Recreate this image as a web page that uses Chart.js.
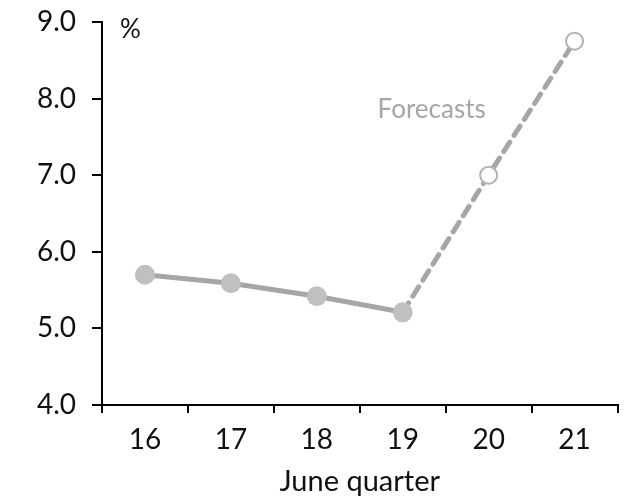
<!DOCTYPE html>
<html>
<head>
<meta charset="utf-8">
<script src="https://cdn.jsdelivr.net/npm/chart.js@4"></script>
<style>
  html, body { margin: 0; padding: 0; background: #fff; }
  #wrap { width: 628px; height: 499px; }
</style>
</head>
<body>
<div id="wrap"><canvas id="chart" width="628" height="499"></canvas></div>
<script>
const labels = ['16', '17', '18', '19', '20', '21'];
const actual = [5.70, 5.59, 5.42, 5.21, null, null];
const forecast = [null, null, null, 5.21, 7.0, 8.75];
const yTicks = [4, 5, 6, 7, 8, 9];

const FONT = 'Lato, "DejaVu Sans", sans-serif';

const notes = {
  id: 'notes',
  afterDraw(chart) {
    const c = chart.ctx;
    const x = chart.scales.x, y = chart.scales.y;
    c.save();
    c.fillStyle = '#111';
    c.font = '26px ' + FONT;
    c.textAlign = 'left';
    c.textBaseline = 'middle';
    c.fillText('%', chart.chartArea.left + 18, y.getPixelForValue(8.9));
    c.fillStyle = '#a6a6a6';
    c.font = '26px ' + FONT;
    c.textAlign = 'center';
    const fx = (x.getPixelForValue(3) + x.getPixelForValue(4)) / 2;
    c.fillText('Forecasts', fx - 14, y.getPixelForValue(7.86));
    c.restore();
  }
};

const ctx = document.getElementById('chart').getContext('2d');
new Chart(ctx, {
  type: 'line',
  data: {
    labels,
    datasets: [
      {
        label: 'Actual',
        data: actual,
        borderColor: '#a6a6a6',
        borderWidth: 5,
        pointBackgroundColor: '#c0c0c0',
        pointBorderColor: '#c0c0c0',
        pointBorderWidth: 0,
        pointRadius: 10,
        order: 1
      },
      {
        label: 'Forecast',
        data: forecast,
        borderColor: '#a6a6a6',
        borderWidth: 5,
        borderDash: [11, 8],
        borderCapStyle: 'round',
        pointBackgroundColor: '#fff',
        pointBorderColor: '#b3b3b3',
        pointBorderWidth: 2,
        pointRadius: [0, 0, 0, 0, 8.5, 8.5],
        order: 2
      }
    ]
  },
  options: {
    responsive: false,
    animation: false,
    layout: { padding: { top: 22, right: 10, left: 0, bottom: 0 } },
    plugins: {
      legend: { display: false },
      tooltip: { enabled: false }
    },
    scales: {
      x: {
        offset: true,
        grid: { display: true, drawOnChartArea: false, drawTicks: true, tickLength: 8, color: '#000', lineWidth: 2, offset: true },
        border: { display: true, color: '#000', width: 2 },
        ticks: { color: '#111', font: { family: FONT, size: 28 }, padding: 10 },
        title: { display: true, text: 'June quarter', color: '#111', font: { family: FONT, size: 29 }, padding: { top: 0, bottom: 0 } },
        afterFit(s) { s.height = 94; }
      },
      y: {
        min: 4,
        max: 9,
        afterBuildTicks(s) { s.ticks = yTicks.map(v => ({ value: v })); },
        grid: { display: true, drawOnChartArea: false, drawTicks: true, tickLength: 10, color: '#000', lineWidth: 2 },
        border: { display: true, color: '#000', width: 2 },
        ticks: { color: '#111', font: { family: FONT, size: 28 }, padding: 16, callback: v => v.toFixed(1) },
        afterFit(s) { s.width = 102; s.paddingTop = 0; s.paddingBottom = 0; }
      }
    }
  },
  plugins: [notes]
});
</script>
</body>
</html>
